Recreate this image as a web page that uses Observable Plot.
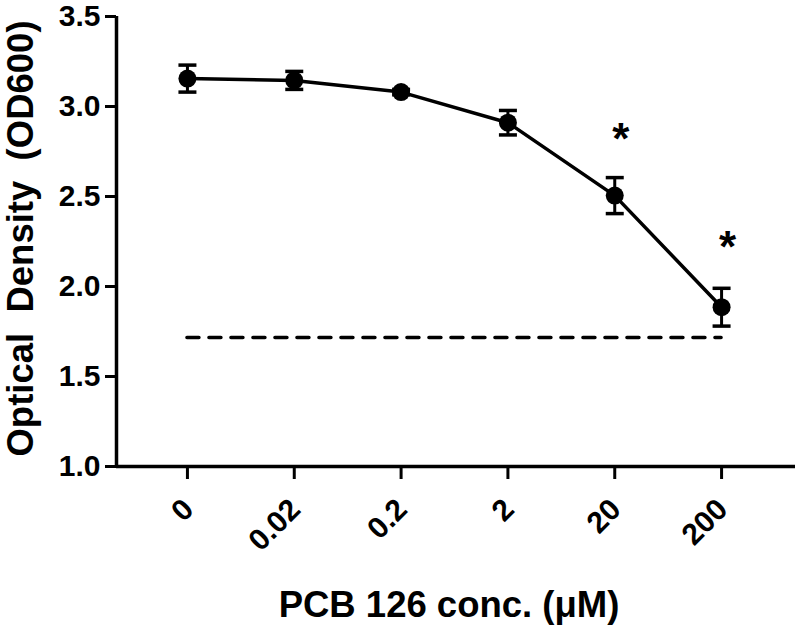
<!DOCTYPE html>
<html>
<head>
<meta charset="utf-8">
<script src="https://cdn.jsdelivr.net/npm/d3@7"></script>
<script src="https://cdn.jsdelivr.net/npm/@observablehq/plot@0.6"></script>
<style>
  html, body { margin: 0; padding: 0; background: #fff; }
  #chart svg { display: block; }
</style>
</head>
<body>
<div id="chart"></div>
<script>
// Data
const concentrations = ["0", "0.02", "0.2", "2", "20", "200"];
const meanOD = [3.155, 3.145, 3.08, 2.91, 2.505, 1.885];
const semOD = [0.075, 0.05, 0.015, 0.068, 0.1, 0.105];
const baselineOD = 1.717;
const starConc = ["20", "200"];
const starY = [2.87, 2.27];
const yTicks = [1.0, 1.5, 2.0, 2.5, 3.0, 3.5];
const xLabel = "PCB 126 conc. (\u03bcM)";
const yLabel = "Optical\u00a0 Density\u00a0 (OD600)";

const rows = concentrations.map((c, i) => ({
  i, c, y: meanOD[i], lo: meanOD[i] - semOD[i], hi: meanOD[i] + semOD[i]
}));
const stars = starConc.map((c, k) => ({ i: concentrations.indexOf(c), y: starY[k] }));

const capSymbol = {
  draw(context, size) {
    const r = Math.sqrt(size / Math.PI);
    context.moveTo(-r, 0);
    context.lineTo(r, 0);
  }
};

const font = "'Liberation Sans', Arial, Helvetica, sans-serif";

const chart = Plot.plot({
  width: 800,
  height: 630,
  marginLeft: 116,
  marginRight: 5,
  marginTop: 16,
  marginBottom: 164,
  style: { fontFamily: font, fontWeight: "bold", fontSize: "30px", color: "#000", background: "#fff" },
  x: { type: "linear", domain: [-0.664, 5.692], axis: null },
  y: { domain: [1, 3.5], axis: null },
  marks: [
    // y axis
    Plot.axisY(yTicks, {
      tickSize: 11, strokeWidth: 3, tickPadding: 5,
      tickFormat: d => d.toFixed(1), fontSize: 30, fontWeight: "bold", label: null
    }),
    Plot.ruleX([-0.664], { strokeWidth: 3.5 }),
    // x axis
    Plot.ruleY([1], { strokeWidth: 3.5 }),
    Plot.axisX(d3.range(concentrations.length), {
      tickSize: 13, strokeWidth: 3, tickFormat: () => "", label: null
    }),
    Plot.text(rows, {
      x: "i", text: "c", frameAnchor: "bottom", rotate: -45,
      textAnchor: "end", lineAnchor: "middle", dx: 1, dy: 38,
      fontSize: 30, fontWeight: "bold"
    }),
    // dashed reference line
    Plot.ruleY([baselineOD], { x1: 0, x2: concentrations.length - 1, strokeWidth: 3.5, strokeDasharray: "12,10", strokeLinecap: "round" }),
    // connecting line
    Plot.line(rows, { x: "i", y: "y", strokeWidth: 3.5 }),
    // error bars
    Plot.ruleX(rows, { x: "i", y1: "lo", y2: "hi", strokeWidth: 3 }),
    Plot.dot(rows, { x: "i", y: "lo", symbol: capSymbol, r: 9, stroke: "black", strokeWidth: 3.5 }),
    Plot.dot(rows, { x: "i", y: "hi", symbol: capSymbol, r: 9, stroke: "black", strokeWidth: 3.5 }),
    // points
    Plot.dot(rows, { x: "i", y: "y", r: 9, fill: "black", stroke: "none" }),
    // significance stars
    Plot.text(stars, { x: "i", y: "y", text: () => "*", fontSize: 44, fontWeight: "bold", dx: 6, dy: 10 }),
    // axis titles
    Plot.text([yLabel], { frameAnchor: "left", textAnchor: "middle", lineAnchor: "middle", rotate: -90, dx: -95, dy: -3, fontSize: 36.5, fontWeight: "bold" }),
    Plot.text([xLabel], { frameAnchor: "bottom", textAnchor: "middle", lineAnchor: "middle", dy: 139, dx: -7, fontSize: 36.5, fontWeight: "bold" })
  ]
});

document.getElementById("chart").appendChild(chart);
</script>
</body>
</html>
